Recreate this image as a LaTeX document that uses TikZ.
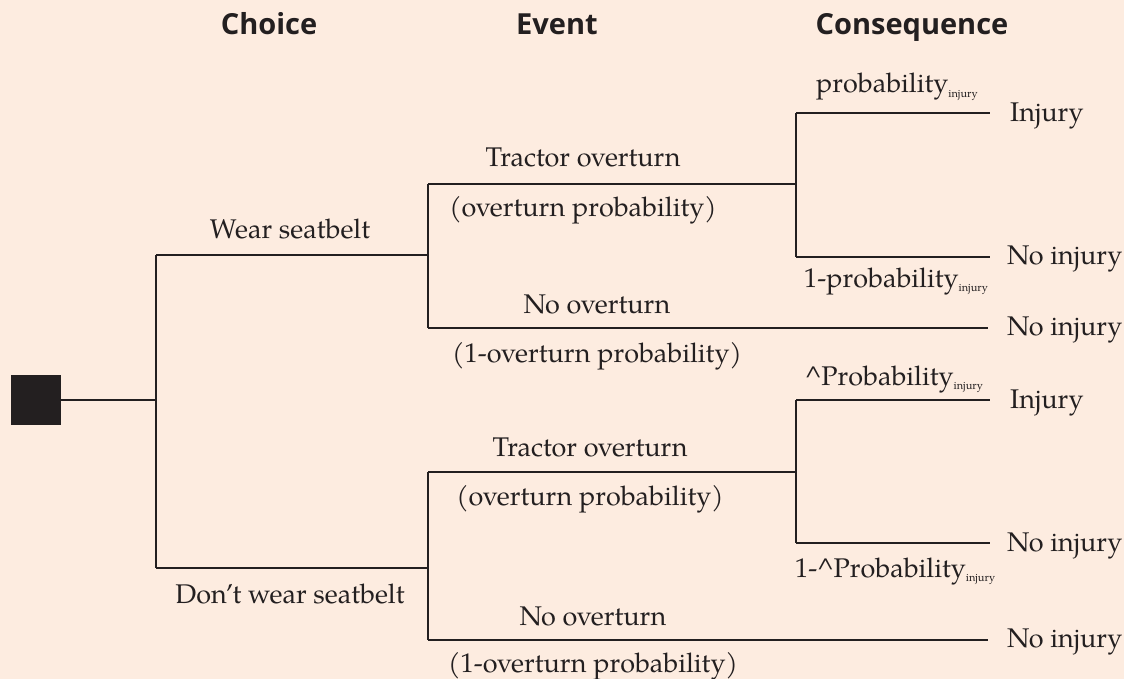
\documentclass[tikz,border=0pt]{standalone}
\usepackage{fontspec}
\setmainfont{TeX Gyre Pagella}
\newfontfamily\headfont{Open Sans}
\definecolor{bg}{HTML}{FDECE0}
\definecolor{ink}{HTML}{231F20}
\newcommand{\inj}{\raisebox{-0.35ex}{\fontsize{11}{12}\selectfont injury}}
\begin{document}
\begin{tikzpicture}[x=1pt,y=-1pt,
  lbl/.style={font=\fontsize{27}{31}\selectfont, text=ink, inner sep=0pt, anchor=base},
  cons/.style={lbl, anchor=base west},
  head/.style={font=\headfont\bfseries\fontsize{29}{33}\selectfont, text=ink, inner sep=0pt, anchor=base},
  branch/.style={draw=ink, line width=2pt},
  sq/.style={fill=ink, draw=none, minimum size=50pt, inner sep=0pt}]
\useasboundingbox[fill=bg] (0,0) rectangle (1124,679);
% headers
\node[head] (hchoice) at (269,35) {Choice};
\node[head] (hevent) at (557,35) {Event};
\node[head] (hcons) at (912,35) {Consequence};
% decision node
\node[sq] (root) at (36,400) {};
% junctions
\coordinate (c1) at (156,400);
\coordinate (c1t) at (156,255);
\coordinate (c1b) at (156,568);
\coordinate (e1) at (428,255);
\coordinate (e1t) at (428,184);
\coordinate (e1b) at (428,328);
\coordinate (o1) at (796,184);
\coordinate (o1t) at (796,113);
\coordinate (o1b) at (796,257);
\coordinate (i1) at (990,113);
\coordinate (n1) at (990,257);
\coordinate (n2) at (988,328);
\coordinate (e2) at (428,568);
\coordinate (e2t) at (428,472);
\coordinate (e2b) at (428,640);
\coordinate (o2) at (796,472);
\coordinate (o2t) at (796,400);
\coordinate (o2b) at (796,543);
\coordinate (i3) at (990,400);
\coordinate (n3) at (990,543);
\coordinate (n4) at (988,640);
% connectors
\draw[branch] (root.east) -- (c1);
\draw[branch] (c1t) -- (c1b);
\draw[branch] (c1t) -- (e1);
\draw[branch] (c1b) -- (e2);
\draw[branch] (e1t) -- (e1b);
\draw[branch] (e1t) -- (o1);
\draw[branch] (e1b) -- (n2);
\draw[branch] (o1t) -- (o1b);
\draw[branch] (o1t) -- (i1);
\draw[branch] (o1b) -- (n1);
\draw[branch] (e2t) -- (e2b);
\draw[branch] (e2t) -- (o2);
\draw[branch] (e2b) -- (n4);
\draw[branch] (o2t) -- (o2b);
\draw[branch] (o2t) -- (i3);
\draw[branch] (o2b) -- (n3);
% labels top
\node[lbl] (lwear) at (290,238) {Wear seatbelt};
\node[lbl] (lto1) at (583,167) {Tractor overturn};
\node[lbl] (lop1) at (583,217) {(overturn probability)};
\node[lbl] (lno1) at (597,313) {No overturn};
\node[lbl] (lnop1) at (597,362) {(1-overturn probability)};
\node[lbl] (lpi1) at (897,93) {probability\inj};
\node[lbl] (lnpi1) at (896,287) {1-probability\inj};
\node[cons] (cinj1) at (1010,122) {Injury};
\node[cons] (cno1) at (1007,264) {No injury};
\node[cons] (cno2) at (1007,335) {No injury};
% labels bottom
\node[lbl] (ldont) at (290,603) {Don’t wear seatbelt};
\node[lbl] (lto2) at (590,456) {Tractor overturn};
\node[lbl] (lop2) at (590,505) {(overturn probability)};
\node[lbl] (lno2) at (593,625) {No overturn};
\node[lbl] (lnop2) at (593,672) {(1-overturn probability)};
\node[lbl] (lpi2) at (894,385) {\textasciicircum Probability\inj};
\node[lbl] (lnpi2) at (895,577) {1-\textasciicircum Probability\inj};
\node[cons] (cinj2) at (1010,408) {Injury};
\node[cons] (cno3) at (1007,551) {No injury};
\node[cons] (cno4) at (1007,647) {No injury};
\end{tikzpicture}
\end{document}
